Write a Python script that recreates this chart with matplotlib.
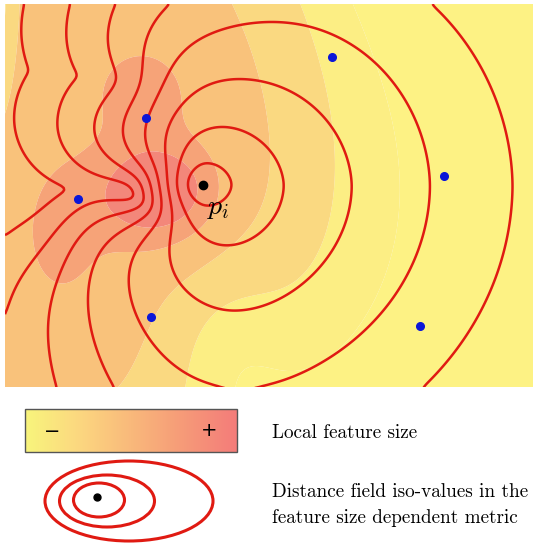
import numpy as np
import matplotlib.pyplot as plt
from matplotlib.patches import Rectangle, Ellipse
from matplotlib.colors import LinearSegmentedColormap

plt.rcParams['mathtext.fontset'] = 'cm'

# panel extent (figure pixels, y down)
x_range = (5, 533)
y_range = (4, 387)

# local feature size: blobs exp(-0.5 r^power) (centre, spread, rotation, amplitude)
blob_cx = [40, 150, 185, 143, 62, 300, 215, -10]
blob_cy = [130, 193, 190, 93, 235, 200, 330, -10]
blob_sx = [215, 40, 25, 30, 28, 110, 50, 20]
blob_sy = [311, 36, 28, 30, 50, 150, 70, 100]
blob_angle = [0, 0, 0, 0, 0, 0, 0, 0]
blob_power = [4, 2, 2, 2, 2, 2, 2, 2]
blob_amp = [0.4, 0.55, 0.12, 0.25, 0.2, 0.08, -0.15, -0.35]

band_levels = [-1, 0.06, 0.14, 0.28, 0.52, 0.75, 5]
band_colors = ['#fdf284', '#fcee84', '#fad981', '#f9c27b', '#f6a378', '#f3877a']
bar_colors = ['#f8f57c', '#fcd880', '#f9b97b', '#f69a78', '#f47c7a']

# source point and iso-values of the distance field
source = (203, 185)
iso_step = 85
n_iso = 12

blue_x = [332, 146, 444, 78, 151, 420]
blue_y = [57, 118, 176, 199, 317, 326]


def blur(a, sigma):
    r = int(3 * sigma)
    k = np.exp(-0.5 * (np.arange(-r, r + 1) / sigma) ** 2)
    k /= k.sum()
    p = np.pad(a, r, mode='edge')
    p = np.apply_along_axis(lambda v: np.convolve(v, k, mode='valid'), 0, p)
    p = np.apply_along_axis(lambda v: np.convolve(v, k, mode='valid'), 1, p)
    return p


step = 2.0
gx = np.arange(x_range[0], x_range[1] + step, step)
gy = np.arange(y_range[0], y_range[1] + step, step)
X, Y = np.meshgrid(gx, gy)

lfs = np.zeros_like(X)
for cx, cy, sx, sy, ang, pw, amp in zip(blob_cx, blob_cy, blob_sx, blob_sy,
                                        blob_angle, blob_power, blob_amp):
    t = np.radians(ang)
    u = (X - cx) * np.cos(t) + (Y - cy) * np.sin(t)
    v = -(X - cx) * np.sin(t) + (Y - cy) * np.cos(t)
    r2 = (u / sx) ** 2 + (v / sy) ** 2
    lfs += amp * np.exp(-0.5 * r2 ** (pw / 2))
lfs_c = np.clip(lfs, 0, 1)
cost = 1 + 1.2 * lfs_c + 8 * lfs_c ** 3

# eikonal solve (upwind, jacobi sweeps) for the feature size dependent distance
big = 1e9
f = cost * step
r0 = np.hypot(X - source[0], Y - source[1])
i0, j0 = np.unravel_index(np.argmin(r0), r0.shape)
dist = np.where(r0 < 4 * step, r0 * cost[i0, j0], big)
pad_r = np.full((dist.shape[0], 1), big)
pad_c = np.full((1, dist.shape[1]), big)
for _ in range(6000):
    a = np.minimum(np.vstack([pad_c, dist[:-1]]), np.vstack([dist[1:], pad_c]))
    b = np.minimum(np.hstack([pad_r, dist[:, :-1]]), np.hstack([dist[:, 1:], pad_r]))
    d = np.abs(a - b)
    cand = np.where(d >= f, np.minimum(a, b) + f,
                    0.5 * (a + b + np.sqrt(np.maximum(2 * f * f - d * d, 0))))
    new = np.minimum(dist, cand)
    if np.max(dist - new) < 1e-6:
        break
    dist = new
dist = blur(dist, 1.5)

fig = plt.figure(figsize=(5.33, 5.43), dpi=100)

# legend area, whole figure in pixel coordinates
lg = fig.add_axes([0, 0, 1, 1])
lg.set_xlim(0, 533)
lg.set_ylim(543, 0)
lg.axis('off')

grad = np.linspace(0, 1, 256)[None, :]
lg.imshow(grad, extent=(25, 237, 452, 409), aspect='auto',
          cmap=LinearSegmentedColormap.from_list('lfs', bar_colors))
lg.add_patch(Rectangle((25, 409), 212, 43, fill=False, ec='#555555', lw=1))
lg.text(52, 431, '\u2212', fontsize=14, ha='center', va='center')
lg.text(209, 431, '+', fontsize=14, ha='center', va='center')
lg.text(272, 433, 'Local feature size', family='cmr10', fontsize=13.8, va='center')
lg.text(272, 492, 'Distance field iso-values in the', family='cmr10', fontsize=13.8, va='center')
lg.text(272, 518, 'feature size dependent metric', family='cmr10', fontsize=13.8, va='center')

for cx, cy, w, h in [(99, 500, 51, 34), (107, 501, 95, 52), (129, 501, 168, 80)]:
    lg.add_patch(Ellipse((cx, cy), w, h, fill=False, ec='#e01a12', lw=2.2))
lg.plot(97, 497, 'o', color='black', ms=5)

# main panel
ax = fig.add_axes([x_range[0] / 533, 1 - y_range[1] / 543,
                   (x_range[1] - x_range[0]) / 533, (y_range[1] - y_range[0]) / 543])
ax.contourf(X, Y, lfs, levels=band_levels, colors=band_colors, antialiased=True)
cs = ax.contour(X, Y, dist, levels=iso_step * np.arange(1, n_iso + 1),
                colors='#e01a12', linewidths=1.8)
ax.plot(blue_x, blue_y, 'o', color='#0b16d8', ms=5.5, ls='none')
ax.plot(*source, 'o', color='black', ms=6)
ax.text(source[0] + 15, source[1] + 22, r'$p_i$', fontsize=20, ha='center', va='center')
ax.set_xlim(*x_range)
ax.set_ylim(y_range[1], y_range[0])
ax.axis('off')

fig.savefig('out.png', dpi=100)
